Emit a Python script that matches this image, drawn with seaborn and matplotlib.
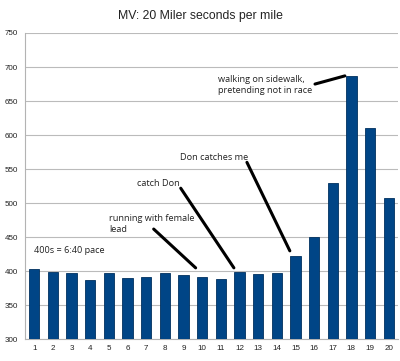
import numpy as np
import pandas as pd
import matplotlib
matplotlib.use("Agg")
import matplotlib.pyplot as plt
from matplotlib.ticker import FixedLocator
import seaborn as sns

# seconds per mile, miles 1..20
miles = [str(i) for i in range(1, 21)]
seconds = [403, 399, 398, 387, 398, 390, 392, 397, 394, 391,
           388, 399, 396, 397, 423, 451, 529, 687, 611, 508]

y_ticks = [300, 350, 400, 450, 500, 550, 600, 650, 700, 750]

# (text, text x, text y, line start, line end) in data coords
notes = [
    ("walking on sidewalk,\npretending not in race", 9.85, 674, (15.05, 675), (16.65, 687)),
    ("Don catches me", 7.8, 567, (11.4, 560), (13.7, 430)),
    ("catch Don", 5.5, 529, (7.85, 522), (10.7, 405)),
    ("running with female\nlead", 4.0, 470, (6.4, 462), (8.65, 405)),
    ("400s = 6:40 pace", 0.0, 430, None, None),
]

df = pd.DataFrame({"mile": miles, "seconds": seconds})

sns.set_theme(style="white")
plt.rcParams["font.family"] = ["Liberation Sans", "DejaVu Sans"]

fig = plt.figure(figsize=(4.0, 3.61), dpi=100)
ax = fig.add_axes([0.0625, 0.06, 0.9325, 0.8486])

sns.barplot(data=df, x="mile", y="seconds", color="#004586", width=0.55,
            edgecolor="#00305e", linewidth=0.6, saturation=1, ax=ax, zorder=3)

ax.set_ylim(300, 750)
ax.set_xlim(-0.5, 19.5)
ax.set_yticks(y_ticks)
ax.yaxis.grid(True, color="#bbbbbb", linewidth=0.8, zorder=0)
ax.set_axisbelow(True)
ax.set_xlabel("")
ax.set_ylabel("")
ax.tick_params(axis="both", labelsize=5.8, colors="#222222", length=0, pad=4)
ax.tick_params(axis="y", length=3, direction="out", color="#b3b3b3", pad=2)
ax.xaxis.set_minor_locator(FixedLocator(np.arange(-0.5, 20, 1)))
ax.tick_params(axis="x", which="minor", length=3, direction="out", color="#b3b3b3")
for s in ["top", "right"]:
    ax.spines[s].set_visible(False)
for s in ["left", "bottom"]:
    ax.spines[s].set_color("#b3b3b3")
    ax.spines[s].set_linewidth(0.8)

fig.text(0.5, 0.955, "MV: 20 Miler seconds per mile", ha="center", va="center",
         fontsize=8.8, color="#222222")

for text, tx, ty, p0, p1 in notes:
    ax.text(tx, ty, text, fontsize=6.6, color="#222222", ha="left", va="center",
            family=["Open Sans", "DejaVu Sans"], linespacing=1.3, zorder=5)
    if p0 is not None:
        ax.plot([p0[0], p1[0]], [p0[1], p1[1]], color="black", linewidth=2.2,
                solid_capstyle="round", zorder=5)

fig.savefig("out.png", dpi=100)
